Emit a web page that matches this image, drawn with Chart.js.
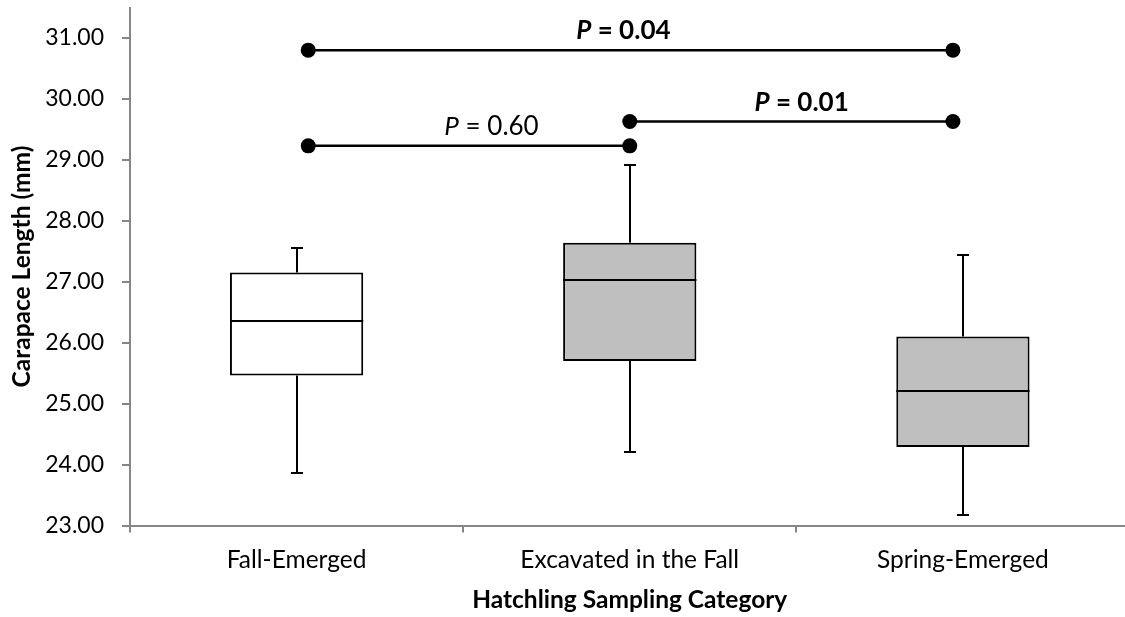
<!DOCTYPE html>
<html>
<head>
<meta charset="utf-8">
<script src="https://cdn.jsdelivr.net/npm/chart.js@4.4.1/dist/chart.umd.min.js"></script>
<style>
    html, body { margin: 0; padding: 0; background: #fff; overflow: hidden; }
    #wrap { width: 1137px; height: 617px; }
</style>
</head>
<body>
<div id="wrap"><canvas id="boxChart" width="1137" height="617"></canvas></div>
<script>
// ================= DATA =================

const categories = ['Fall-Emerged', 'Excavated in the Fall', 'Spring-Emerged'];
const minVals    = [23.86, 24.20, 23.17];
const q1Vals     = [25.46, 25.70, 24.29];
const medianVals = [26.35, 27.03, 25.20];
const q3Vals     = [27.15, 27.64, 26.10];
const maxVals    = [27.55, 28.91, 27.44];
const boxColors  = ['#ffffff', '#bfbfbf', '#bfbfbf'];

// comparison brackets (x in category index units)
const bracketStart = [0.035, 0.035, 1.0];
const bracketEnd   = [1.97, 1.0, 1.97];
const bracketY     = [30.80, 29.23, 29.63];
const pValues      = ['0.04', '0.60', '0.01'];
const pBold        = [true, false, true];
const labelX       = [0.981, 0.585, 1.516];
const labelY       = [30.98, 29.41, 29.80];

const yTicks = [23, 24, 25, 26, 27, 28, 29, 30, 31];

const FONT = 'Lato, "Open Sans", sans-serif';

// ================= PLUGINS =================

// whiskers, caps and median lines
const whiskerPlugin = {
    id: 'whiskers',
    afterDatasetsDraw(chart){
        const {ctx, scales: {x, y}} = chart;
        const boxMeta = chart.getDatasetMeta(0);
        ctx.save();
        ctx.strokeStyle = '#000';
        ctx.lineWidth = 2;
        categories.forEach((c, i) => {
            const px = Math.round(x.getPixelForValue(i));
            [[minVals[i], q1Vals[i]], [maxVals[i], q3Vals[i]]].forEach(([end, edge]) => {
                const yEnd = Math.round(y.getPixelForValue(end));
                ctx.beginPath();
                ctx.moveTo(px, y.getPixelForValue(edge));
                ctx.lineTo(px, yEnd);
                ctx.moveTo(px - 6, yEnd);
                ctx.lineTo(px + 6, yEnd);
                ctx.stroke();
            });
            const bar = boxMeta.data[i];
            const half = bar.width / 2;
            const ym = Math.round(y.getPixelForValue(medianVals[i]));
            ctx.beginPath();
            ctx.moveTo(bar.x - half, ym);
            ctx.lineTo(bar.x + half, ym);
            ctx.stroke();
        });
        ctx.restore();
    }
};

const pLabelPlugin = {
    id: 'pLabels',
    afterDatasetsDraw(chart){
        const {ctx, scales: {xl, y}} = chart;
        ctx.save();
        ctx.fillStyle = '#000';
        ctx.textBaseline = 'alphabetic';
        ctx.textAlign = 'left';
        pValues.forEach((p, i) => {
            const weight = pBold[i] ? 'bold ' : '';
            const italicFont = 'italic ' + weight + '26px ' + FONT;
            const normalFont = weight + '26px ' + FONT;
            const rest = ' = ' + p;
            ctx.font = italicFont;
            const w1 = ctx.measureText('P').width;
            ctx.font = normalFont;
            const w2 = ctx.measureText(rest).width;
            const cx = xl.getPixelForValue(labelX[i]);
            const by = y.getPixelForValue(labelY[i]);
            const left = cx - (w1 + w2) / 2;
            ctx.font = italicFont;
            ctx.fillText('P', left, by);
            ctx.font = normalFont;
            ctx.fillText(rest, left + w1, by);
        });
        ctx.restore();
    }
};

// ================= CHART =================

const bracketSets = bracketY.map((yv, i) => ({
    type: 'line',
    xAxisID: 'xl',
    yAxisID: 'y',
    data: [{x: bracketStart[i], y: yv}, {x: bracketEnd[i], y: yv}],
    borderColor: '#000',
    borderWidth: 2.5,
    pointRadius: 7.5,
    pointBackgroundColor: '#000',
    pointBorderWidth: 0,
    fill: false
}));

new Chart(document.getElementById('boxChart'), {
    type: 'bar',
    data: {
        labels: categories,
        datasets: [{
            type: 'bar',
            xAxisID: 'x',
            yAxisID: 'y',
            data: categories.map((c, i) => [q1Vals[i], q3Vals[i]]),
            backgroundColor: boxColors,
            borderColor: '#000',
            borderWidth: 2,
            borderSkipped: false,
            grouped: false,
            barPercentage: 0.4,
            categoryPercentage: 1.0
        }, ...bracketSets]
    },
    options: {
        responsive: false,
        animation: false,
        layout: { padding: { top: 6, left: 0, right: 0, bottom: 0 } },
        plugins: {
            legend: { display: false },
            tooltip: { enabled: false }
        },
        scales: {
            x: {
                type: 'category',
                offset: true,
                afterFit(scale){
                    scale.height = 91.5;
                    scale.paddingLeft = 0;
                    scale.paddingRight = 0;
                },
                grid: { display: true, drawOnChartArea: false, offset: true, tickLength: 7, color: '#868686', lineWidth: 2 },
                border: { color: '#868686', width: 2 },
                ticks: { color: '#000', padding: 13, font: { family: FONT, size: 24.5 } },
                title: {
                    display: true,
                    text: 'Hatchling Sampling Category',
                    color: '#000',
                    padding: { top: 0, bottom: 2.3 },
                    font: { family: FONT, size: 24.5, weight: 'bold' }
                }
            },
            xl: {
                type: 'linear',
                min: -0.5,
                max: 2.5,
                offset: false,
                display: false
            },
            y: {
                min: 23,
                max: 31.5,
                afterFit(scale){
                    scale.width = 130;
                    scale.paddingTop = 0;
                    scale.paddingBottom = 0;
                },
                afterBuildTicks(scale){ scale.ticks = yTicks.map(v => ({value: v})); },
                grid: { display: true, drawOnChartArea: false, tickLength: 8, color: '#868686', lineWidth: 2 },
                border: { color: '#868686', width: 2 },
                ticks: {
                    color: '#000',
                    padding: 18,
                    font: { family: FONT, size: 23 },
                    callback: v => Number(v).toFixed(2)
                },
                title: {
                    display: true,
                    text: 'Carapace Length (mm)',
                    color: '#000',
                    padding: { top: 7.3, bottom: 0 },
                    font: { family: FONT, size: 24.5, weight: 'bold' }
                }
            }
        }
    },
    plugins: [whiskerPlugin, pLabelPlugin]
});
</script>
</body>
</html>
